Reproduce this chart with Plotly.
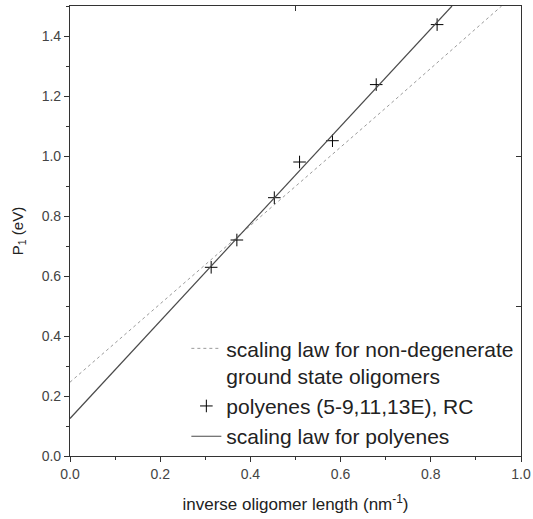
import plotly.graph_objects as go

# Data
poly_x = [0.313, 0.370, 0.453, 0.509, 0.582, 0.679, 0.814]
poly_y = [0.629, 0.720, 0.861, 0.980, 1.051, 1.238, 1.438]

nondeg_x = [0.0, 0.12, 0.45, 0.70, 0.957]
nondeg_y = [0.246, 0.403, 0.835, 1.16, 1.50]

fit_x = [0.0, 0.847]
fit_y = [0.125, 1.50]

FONT = "Arial, Liberation Sans, sans-serif"
AX = "#333333"

fig = go.Figure()
fig.add_trace(go.Scatter(
    x=nondeg_x, y=nondeg_y, mode="lines",
    line=dict(color="#9a9a9a", width=1, dash="dot"),
    name="scaling law for non-degenerate<br>ground state oligomers"))
fig.add_trace(go.Scatter(
    x=poly_x, y=poly_y, mode="markers",
    marker=dict(symbol="cross-thin", size=9, color="black",
                line=dict(width=1, color="black")),
    name="polyenes (5-9,11,13E), RC"))
fig.add_trace(go.Scatter(
    x=fit_x, y=fit_y, mode="lines",
    line=dict(color="#4a4a4a", width=1.2),
    name="scaling law for polyenes"))
# helper trace for the mirrored (top/right) axes
fig.add_trace(go.Scatter(x=[], y=[], xaxis="x2", yaxis="y2",
                         showlegend=False, hoverinfo="skip"))

common = dict(showgrid=False, zeroline=False, showline=True, automargin=False,
              linecolor=AX, linewidth=1.2, tickcolor=AX,
              tickfont=dict(family=FONT, size=14, color="#444444"))

fig.update_layout(
    width=533, height=519,
    margin=dict(l=70, r=12, t=6, b=63),
    paper_bgcolor="white", plot_bgcolor="white",
    font=dict(family=FONT, color="#222222"),
    xaxis=dict(range=[0, 1], dtick=0.2, tickformat=".1f",
               ticks="outside", ticklen=5, tickwidth=1.2,
               minor=dict(dtick=0.1, ticks="outside", ticklen=3, tickcolor=AX),
               title=dict(text="inverse oligomer length (nm<sup>-1</sup>)",
                          font=dict(family=FONT, size=17, color="#222222"),
                          standoff=17),
               **common),
    yaxis=dict(range=[0, 1.5], dtick=0.2, tickformat=".1f",
               ticks="outside", ticklen=5, tickwidth=1.2,
               minor=dict(dtick=0.1, ticks="outside", ticklen=3, tickcolor=AX),
               title=dict(text="P<sub>1</sub> (eV)",
                          font=dict(family=FONT, size=15, color="#222222"),
                          standoff=14),
               **common),
    xaxis2=dict(range=[0, 1], dtick=0.5, overlaying="x", side="top",
                anchor="y2", ticks="inside", ticklen=5, tickwidth=1.2,
                showticklabels=False, showgrid=False, zeroline=False,
                automargin=False,
                showline=True, linecolor=AX, linewidth=1.2, tickcolor=AX),
    yaxis2=dict(range=[0, 1.5], dtick=0.5, overlaying="y", side="right",
                anchor="x2", ticks="inside", ticklen=5, tickwidth=1.2,
                showticklabels=False, showgrid=False, zeroline=False,
                automargin=False,
                showline=True, linecolor=AX, linewidth=1.2, tickcolor=AX),
    legend=dict(x=0.258, y=0.284, xanchor="left", yanchor="top",
                bgcolor="rgba(0,0,0,0)", borderwidth=0,
                valign="top", tracegroupgap=0,
                font=dict(family=FONT, size=21, color="#222222")),
    showlegend=True,
)

fig.write_html("out.html")
